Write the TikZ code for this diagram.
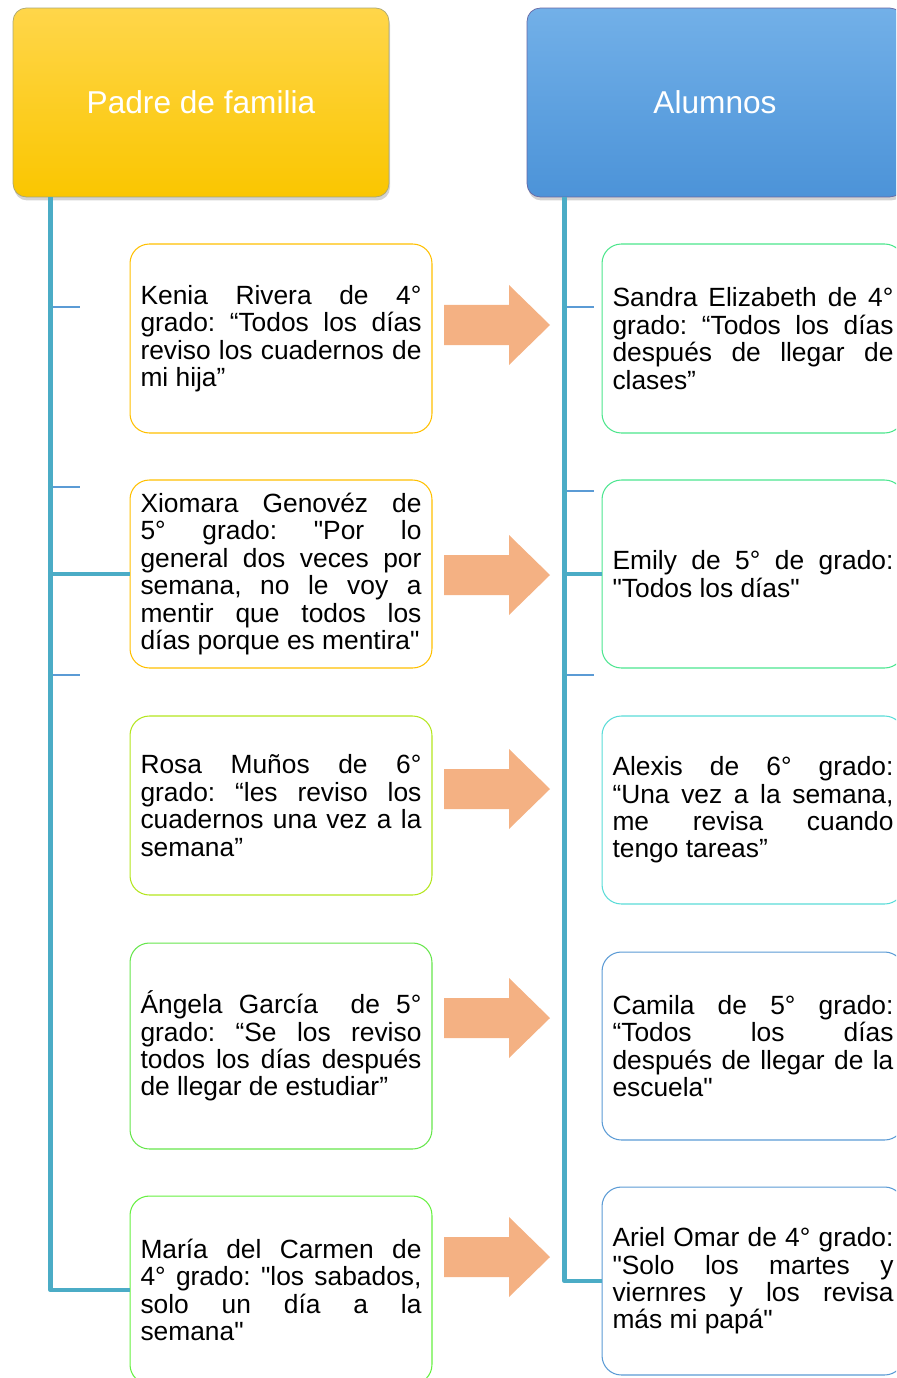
\documentclass[tikz,border=0pt]{standalone}
\usepackage{fontspec}
\setmainfont{Liberation Sans}[Ligatures=TeXOff]
\usetikzlibrary{shadows}
\hyphenpenalty=10000
\exhyphenpenalty=10000
\tolerance=10000
\frenchspacing

\definecolor{colrama}{HTML}{4BACC6}
\definecolor{colmarca}{HTML}{5B9BD5}
\definecolor{naranja}{HTML}{F4B183}

\tikzset{
    hdr/.style={rounded corners=7.5pt, minimum width=7.52cm, minimum height=3.78cm,
        text=white, font=\fontsize{18}{21}\selectfont,
        drop shadow={shadow xshift=0.6pt, shadow yshift=-2pt, opacity=0.35}},
    cita/.style={draw, line width=0.6pt, rounded corners=11pt, fill=white,
        text width=5.62cm, align=justify, inner xsep=0.21cm,
        minimum width=6.04cm, font=\fontsize{15}{15.6}\selectfont},
    rama/.style={draw=colrama, line width=2.8pt, line join=round},
    marca/.style={draw=colmarca, line width=0.9pt},
    flecha/.style={fill=naranja}
}

\begin{document}
\begin{tikzpicture}[x=0.02cm, y=-0.02cm]
    \clip (0,0) rectangle (896,1378);
    \node[hdr, draw=yellow!45!black!70, top color={rgb,255:red,255;green,214;blue,74}, bottom color={rgb,255:red,250;green,198;blue,0}] (padre) at (201,102.5) {Padre de familia};
    \node[hdr, draw=blue!40!black!60, top color={rgb,255:red,114;green,176;blue,232}, bottom color={rgb,255:red,76;green,147;blue,216}] (alumnos) at (715,102.5) {Alumnos};

    \node[cita, draw={rgb,255:red,255;green,192;blue,0}, minimum height=3.78cm] (p1) at (281,338.5) {Kenia Rivera de 4°\linebreak grado: “Todos los días\linebreak reviso los cuadernos de\linebreak mi hija”};
    \node[cita, draw={rgb,255:red,255;green,192;blue,0}, minimum height=3.76cm] (p2) at (281,574) {Xiomara Genovéz de\linebreak 5° grado: "Por lo\linebreak general dos veces por\linebreak semana, no le voy a\linebreak mentir que todos los\linebreak días porque es mentira"};
    \node[cita, draw={rgb,255:red,180;green,230;blue,30}, minimum height=3.58cm] (p3) at (281,805.5) {Rosa Muños de 6°\linebreak grado: “les reviso los\linebreak cuadernos una vez a la\linebreak semana”};
    \node[cita, draw={rgb,255:red,102;green,230;blue,76}, minimum height=4.12cm] (p4) at (281,1046) {Ángela García\ \ de 5°\linebreak grado: “Se los reviso\linebreak todos los días después\linebreak de llegar de estudiar”};
    \node[cita, draw={rgb,255:red,102;green,240;blue,64}, minimum height=3.76cm] (p5) at (281,1290) {María del Carmen de\linebreak 4° grado: "los sabados,\linebreak solo un día a la\linebreak semana"};

    \node[cita, draw={rgb,255:red,76;green,230;blue,140}, minimum height=3.78cm] (a1) at (753,338.5) {Sandra Elizabeth de 4°\linebreak grado: “Todos los días\linebreak después de llegar de\linebreak clases”};
    \node[cita, draw={rgb,255:red,76;green,230;blue,144}, minimum height=3.76cm] (a2) at (753,574) {Emily de 5° de grado:\linebreak "Todos los días"};
    \node[cita, draw={rgb,255:red,90;green,220;blue,216}, minimum height=3.76cm] (a3) at (753,810) {Alexis de 6° grado:\linebreak “Una vez a la semana,\linebreak me revisa cuando\linebreak tengo tareas”};
    \node[cita, draw={rgb,255:red,91;green,155;blue,213}, minimum height=3.76cm] (a4) at (753,1046) {Camila de 5° grado:\linebreak “Todos los días\linebreak después de llegar de la\linebreak escuela"};
    \node[cita, draw={rgb,255:red,91;green,155;blue,213}, minimum height=3.76cm] (a5) at (753,1281) {Ariel Omar de 4° grado:\linebreak "Solo los martes y\linebreak viernres y los revisa\linebreak más mi papá"};

    \coordinate (tp) at ([xshift=0.76cm]padre.south west);
    \coordinate (ta) at ([xshift=0.76cm]alumnos.south west);
    \foreach \y in {307,487,675} \draw[marca] (tp |- 0,\y) -- ++(29,0);
    \foreach \y in {307,491,675} \draw[marca] (ta |- 0,\y) -- ++(29,0);
    \draw[rama] (tp) |- (p5.west);
    \draw[rama] (p2.west -| tp) -- (p2.west);
    \draw[rama] (ta) |- (a5.west);
    \draw[rama] (a2.west -| ta) -- (a2.west);

    \foreach \y in {325,575,789,1018,1257}
        \fill[flecha] (444,\y-20) -- (509,\y-20) -- (509,\y-40) -- (550,\y) -- (509,\y+40) -- (509,\y+20) -- (444,\y+20) -- cycle;
\end{tikzpicture}
\end{document}
